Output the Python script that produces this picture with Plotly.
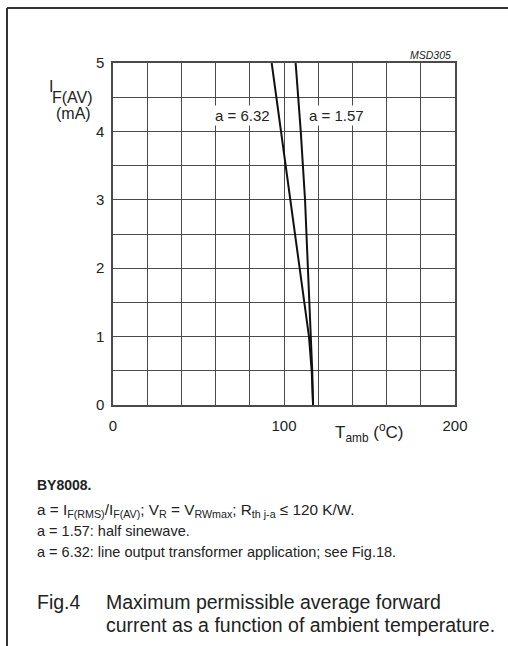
import plotly.graph_objects as go

# ---- data ----
current_ma = [5, 4, 3, 2, 1, 0.5, 0]
t_amb_a632 = [92.8, 98.3, 103.8, 109.4, 114.6, 116.2, 117.0]
t_amb_a157 = [106.8, 109.8, 112.3, 114.0, 115.8, 116.5, 117.0]

x_grid = [0, 20, 40, 60, 80, 100, 120, 140, 160, 180, 200]
x_labels = ["0", "", "", "", "", "100", "", "", "", "", "200"]
y_grid = [0, 0.5, 1, 1.5, 2, 2.5, 3, 3.5, 4, 4.5, 5]
y_labels = ["0", "", "1", "", "2", "", "3", "", "4", "", "5"]

W, H = 508, 646
L, R, T, B = 113, 455, 63, 405
PW, PH = R - L, B - T


def px(x):
    return (x - L) / PW


def py(y):
    return (B - y) / PH


FONT = "Liberation Sans, Arial, Helvetica, sans-serif"
TXT = "#222222"
GRID = "#4a4a4a"

fig = go.Figure()
fig.add_trace(go.Scatter(x=t_amb_a632, y=current_ma, mode="lines",
                         line=dict(color="#111111", width=2), showlegend=False,
                         hoverinfo="skip"))
fig.add_trace(go.Scatter(x=t_amb_a157, y=current_ma, mode="lines",
                         line=dict(color="#111111", width=2), showlegend=False,
                         hoverinfo="skip"))

fig.update_xaxes(range=[0, 200], tickvals=x_grid, ticktext=x_labels,
                 showgrid=True, gridcolor=GRID, gridwidth=1.4,
                 showline=True, linecolor=GRID, linewidth=1.5, mirror=True,
                 zeroline=False, ticks="", ticklen=0, ticklabelstandoff=6,
                 tickfont=dict(family=FONT, size=15, color=TXT))
fig.update_yaxes(range=[0, 5], tickvals=y_grid, ticktext=y_labels,
                 showgrid=True, gridcolor=GRID, gridwidth=1.4,
                 showline=True, linecolor=GRID, linewidth=1.5, mirror=True,
                 zeroline=False, ticks="", ticklen=0, ticklabelstandoff=4,
                 tickfont=dict(family=FONT, size=15, color=TXT))

ann = []


def text(xp, yp, s, size=13, anchor="left", italic=False, bg=None, yanchor="middle"):
    f = dict(family=FONT, size=size, color=TXT)
    if italic:
        f["style"] = "italic"
    d = dict(x=px(xp), y=py(yp), xref="paper", yref="paper", text=s,
             showarrow=False, xanchor=anchor, yanchor=yanchor, font=f)
    if bg:
        d["bgcolor"] = bg
        d["borderpad"] = 1
    ann.append(d)


text(453, 55, "MSD305", size=10.5, anchor="right", italic=True)
text(47, 86, "I", size=16)
text(50, 97, "F(AV)", size=16)
text(54, 113, "(mA)", size=16)
text(242, 115, "a = 6.32", size=15, anchor="center", bg="white")
text(336, 115, "a = 1.57", size=15, anchor="center", bg="white")
text(333, 432, "T<sub>amb</sub> (<sup>o</sup>C)", size=17)

text(35, 485, "<b>BY8008.</b>", size=14)
text(35, 510, "a = I<sub>F(RMS)</sub>/I<sub>F(AV)</sub>; V<sub>R</sub> = V<sub>RWmax</sub>; R<sub>th j-a</sub> ≤ 120 K/W.", size=15.3)
text(35, 531, "a = 1.57: half sinewave.", size=14.5)
text(35, 552, "a = 6.32: line output transformer application; see Fig.18.", size=14.5)
text(35, 602, "Fig.4", size=19.5)
text(104, 602, "Maximum permissible average forward", size=19.5)
text(104, 625, "current as a function of ambient temperature.", size=19.5)

shapes = [
    dict(type="line", xref="paper", yref="paper", x0=px(7), x1=px(W + 5), y0=py(8), y1=py(8),
         line=dict(color="#333333", width=2)),
    dict(type="line", xref="paper", yref="paper", x0=px(7), x1=px(7), y0=py(8), y1=py(H + 5),
         line=dict(color="#333333", width=2)),
]

fig.update_layout(width=W, height=H, margin=dict(l=L, r=W - R, t=T, b=H - B),
                  paper_bgcolor="white", plot_bgcolor="white",
                  annotations=ann, shapes=shapes, showlegend=False)

fig.write_html("out.html")
